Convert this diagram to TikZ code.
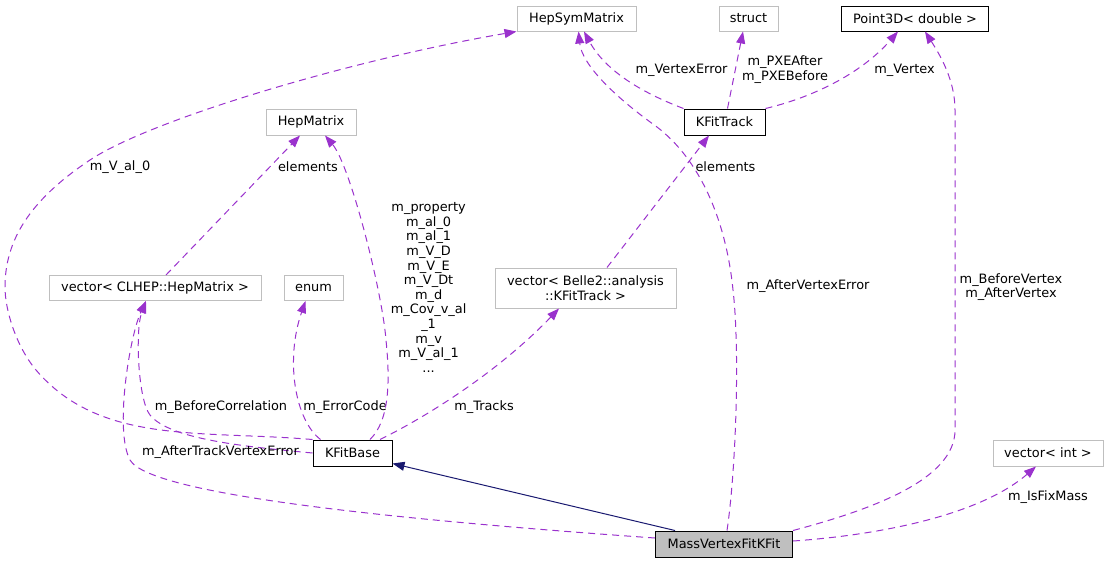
\documentclass[tikz,border=0pt]{standalone}
\usepackage{fontspec}
\setmainfont{DejaVu Sans}
\usetikzlibrary{arrows.meta}
\definecolor{edgepurple}{HTML}{9A32CD}
\definecolor{inhblue}{HTML}{191970}
\definecolor{extgray}{HTML}{BFBFBF}
\begin{document}
\begin{tikzpicture}[x=1pt, y=-1pt,
    font=\fontsize{12.9}{14.6}\selectfont,
    cls/.style={draw=black, line width=1pt, inner sep=0pt, minimum height=25pt},
    ext/.style={cls, draw=extgray},
    lbl/.style={inner sep=0pt, align=center},
    member/.style={draw=edgepurple, line width=1pt, dash pattern=on 7pt off 5pt, -{Triangle[length=12pt, width=9pt]}},
    inherit/.style={draw=inhblue, line width=1pt, -{Triangle[length=12pt, width=9pt]}}]
    \useasboundingbox (0, 0) rectangle (1110, 563);

    \node[ext, minimum width=119pt] (hepsym) at (576.5, 18.5) {HepSymMatrix};
    \node[ext, minimum width=59pt] (struct) at (748.5, 18.5) {struct};
    \node[cls, minimum width=147pt] (point3d) at (915, 18.5) {Point3D< double >};
    \node[ext, minimum width=90pt, minimum height=26pt] (hepmatrix) at (311, 122) {HepMatrix};
    \node[cls, minimum width=81pt, minimum height=26pt] (kfittrack) at (724.5, 122) {KFitTrack};
    \node[ext, minimum width=212pt] (veclhep) at (155, 288) {vector< CLHEP::HepMatrix >};
    \node[ext, minimum width=59pt] (enum) at (313.5, 288) {enum};
    \node[ext, minimum width=181pt, minimum height=40pt, align=center] (vecbelle) at (585.5, 288) {vector< Belle2::analysis\\::KFitTrack >};
    \node[cls, minimum width=79pt, minimum height=26pt] (kfitbase) at (352.5, 453) {KFitBase};
    \node[ext, minimum width=110pt, minimum height=26pt] (vecint) at (1048, 453) {vector< int >};
    \node[cls, fill=extgray, minimum width=137pt, minimum height=26pt] (massvfk) at (724, 544) {MassVertexFitKFit};

    \draw[inherit] ([xshift=-49pt]massvfk.north) -- ([yshift=3pt]kfitbase.south east);

    \draw[member] (kfitbase.north west) .. controls (200, 430) and (100, 445) .. (36, 370) .. controls (16, 346) and (5, 310) .. (5, 287) .. controls (5, 240) and (30, 200) .. (90, 160) .. controls (150, 120) and (350, 60) .. (hepsym.south west);
    \node[lbl] (lval0) at (120, 167) {m\_V\_al\_0};

    \draw[member] (kfitbase.west) .. controls (250, 447) and (170, 440) .. (150, 415) .. controls (138, 400) and (135, 330) .. ([xshift=-9pt]veclhep.south);
    \node[lbl] (lbeforecorr) at (221, 407) {m\_BeforeCorrelation};

    \draw[member] ([yshift=6pt]massvfk.west) .. controls (400, 520) and (150, 495) .. (130, 460) .. controls (114, 430) and (130, 335) .. ([xshift=-9pt]veclhep.south);
    \node[lbl] (laftertrack) at (220.5, 452) {m\_AfterTrackVertexError};

    \draw[member] ([xshift=8pt]kfitbase.north west) .. controls (295, 420) and (285, 360) .. ([xshift=-8pt]enum.south);
    \node[lbl] (lerrorcode) at (345, 407) {m\_ErrorCode};

    \draw[member] ([xshift=17.5pt]kfitbase.north) .. controls (390, 420) and (390, 380) .. (386, 340) .. controls (382, 290) and (350, 165) .. ([xshift=14pt]hepmatrix.south);
    \node[lbl] (lproperty) at (428.6, 287.5) {m\_property\\m\_al\_0\\m\_al\_1\\m\_V\_D\\m\_V\_E\\m\_V\_Dt\\m\_d\\m\_Cov\_v\_al\\\_1\\m\_v\\m\_V\_al\_1\\...};

    \draw[member] ([xshift=11pt]veclhep.north) -- ([xshift=-11pt]hepmatrix.south);
    \node[lbl] (lelemhep) at (308, 167) {elements};

    \draw[member] ([xshift=27.5pt]kfitbase.north) .. controls (430, 415) and (500, 370) .. ([xshift=-26.5pt]vecbelle.south);
    \node[lbl] (ltracks) at (484, 407) {m\_Tracks};

    \draw[member] ([xshift=21.5pt]vecbelle.north) -- ([xshift=-15.5pt]kfittrack.south);
    \node[lbl] (lelemtrack) at (725.5, 167) {elements};

    \draw[member] (kfittrack.north west) .. controls (640, 92) and (605, 70) .. ([xshift=7.5pt]hepsym.south);
    \node[lbl] (lvertexerr) at (681.5, 70) {m\_VertexError};

    \draw[member] ([xshift=3pt]massvfk.north) .. controls (736, 470) and (740, 350) .. (733, 290) .. controls (726, 220) and (700, 160) .. (657, 127) .. controls (615, 97) and (582, 65) .. ([xshift=2pt]hepsym.south);
    \node[lbl] (laftervertexerr) at (808, 286.5) {m\_AfterVertexError};

    \draw[member] ([xshift=3pt]kfittrack.north) -- ([xshift=-5.5pt]struct.south);
    \node[lbl] (lpxe) at (785, 69.5) {m\_PXEAfter\\m\_PXEBefore};

    \draw[member] (kfittrack.north east) .. controls (810, 98) and (860, 75) .. ([xshift=-17pt]point3d.south);
    \node[lbl] (lvertex) at (904.5, 70) {m\_Vertex};

    \draw[member] (massvfk.north east) .. controls (870, 510) and (955, 480) .. (955, 430) -- (955, 110) .. controls (955, 80) and (940, 55) .. ([xshift=10pt]point3d.south);
    \node[lbl] (lbeforevertex) at (1011, 287) {m\_BeforeVertex\\m\_AfterVertex};

    \draw[member] ([yshift=3pt]massvfk.east) .. controls (880, 535) and (980, 515) .. ([xshift=-12pt]vecint.south);
    \node[lbl] (lfixmass) at (1048, 497) {m\_IsFixMass};
\end{tikzpicture}
\end{document}
